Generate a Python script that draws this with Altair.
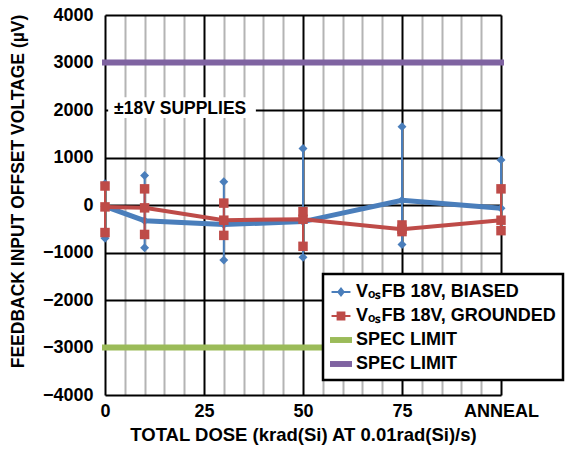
import altair as alt
import pandas as pd

# ---- data ----
dose = [0, 10, 30, 50, 75, 100]
x_tick_values = [0, 25, 50, 75, 100]
x_tick_labels = ["0", "25", "50", "75", "ANNEAL"]

biased_mean = [-30, -330, -410, -350, 100, -70]
biased_high = [450, 620, 490, 1190, 1650, 950]
biased_low = [-700, -900, -1160, -1100, -830, -500]

grounded_mean = [-40, -60, -320, -300, -510, -320]
grounded_high = [400, 340, 40, -140, -420, 340]
grounded_low = [-580, -620, -640, -870, -560, -540]

spec_low = -3000
spec_high = 3000

series_keys = ["biased", "grounded", "spec_lo", "spec_hi"]
series_labels = ["VₒₛFB 18V, BIASED", "VₒₛFB 18V, GROUNDED", "SPEC LIMIT", "SPEC LIMIT"]

annotation = "±18V SUPPLIES"

# ---- styles ----
FONT = "Liberation Sans"
BLUE = "#4A7EBB"
RED = "#BE4B48"
GREEN = "#9BBB59"
PURPLE = "#7F63A1"

df_b = pd.DataFrame({"dose": dose, "mean": biased_mean, "low": biased_low, "high": biased_high})
df_g = pd.DataFrame({"dose": dose, "mean": grounded_mean, "low": grounded_low, "high": grounded_high})

label_map = "{" + ",".join(f"'{k}':'{v}'" for k, v in zip(series_keys, series_labels)) + "}"
tick_map = "{" + ",".join(f"'{v}':'{l}'" for v, l in zip(x_tick_values, x_tick_labels)) + "}"

x_scale = alt.Scale(domain=[0, 100], nice=False, zero=False)
y_scale = alt.Scale(domain=[-4000, 4000], nice=False)

x_axis = alt.Axis(
    values=list(range(0, 101, 5)),
    labelExpr=f"datum.value % 25 === 0 ? {tick_map}[''+datum.value] : ''",
    ticks=False, domain=False, grid=True,
    gridColor={"condition": {"test": "datum.value % 25 === 0", "value": "black"}, "value": "#b4b4b4"},
    gridWidth=2, labelOverlap=False, labelFlush=False,
    labelFont=FONT, labelFontSize=18, labelFontWeight="bold", labelColor="black", labelPadding=7,
    title="TOTAL DOSE (krad(Si) AT 0.01rad(Si)/s)",
    titleFont=FONT, titleFontSize=18.5, titleFontWeight="bold", titleColor="black", titlePadding=5,
)
y_axis = alt.Axis(
    values=list(range(-4000, 4001, 1000)), format="d",
    ticks=False, domain=False, grid=True, gridColor="black", gridWidth=2,
    labelFont=FONT, labelFontSize=18, labelFontWeight="bold", labelColor="black", labelPadding=12,
    title="FEEDBACK INPUT OFFSET VOLTAGE (µV)", titleY=176,
    titleFont=FONT, titleFontSize=17.5, titleFontWeight="bold", titleColor="black", titlePadding=15,
)


def X(f):
    return alt.X(f, type="quantitative", scale=x_scale, axis=x_axis)


def Y(f):
    return alt.Y(f, type="quantitative", scale=y_scale, axis=y_axis)


# annotation background + text (data coordinates)
ann_df = pd.DataFrame({"x0": [0.8], "x1": [38.1], "y0": [2270], "y1": [1830], "tx": [2.3], "ty": [2030], "t": [annotation]})
ann_bg = alt.Chart(ann_df).mark_rect(color="white").encode(x=X("x0"), x2="x1:Q", y=Y("y0"), y2="y1:Q")
ann_text = alt.Chart(ann_df).mark_text(
    align="left", baseline="middle", font=FONT, fontSize=17.5, fontWeight="bold", color="black"
).encode(x=X("tx"), y=Y("ty"), text="t:N")


def spec_layer(val, color):
    d = pd.DataFrame({"x0": [dose[0]], "x1": [dose[-1]], "y": [val]})
    return alt.Chart(d).mark_rule(strokeWidth=6, strokeCap="square", color=color).encode(
        x=X("x0"), x2="x1:Q", y=Y("y")
    )


def series_layers(df, color, shape, size, lw):
    err = alt.Chart(df).mark_rule(color=color, strokeWidth=2).encode(x=X("dose"), y=Y("low"), y2="high:Q")
    line = alt.Chart(df).mark_line(color=color, strokeWidth=lw).encode(x=X("dose"), y=Y("mean"))
    pts = alt.Chart(df).transform_fold(["low", "mean", "high"]).mark_point(
        shape=shape, filled=True, size=size, color=color, opacity=1
    ).encode(x=X("dose"), y=Y("value"))
    return [err, line, pts]


diamond_line = "M-0.86,-0.09H0.86V0.09H-0.86Z M0,-0.45L0.36,0L0,0.45L-0.36,0Z"
square_line = "M-0.86,-0.09H0.86V0.09H-0.86Z M-0.4,-0.4H0.4V0.4H-0.4Z"
bar_line = "M-1,-0.27H1V0.27H-1Z"

leg = alt.Legend(
    orient="none", legendX=218, legendY=259, title=None, labelExpr=f"{label_map}[datum.value]",
    labelFont=FONT, labelFontSize=18, labelFontWeight="bold", labelColor="black", labelLimit=400,
    symbolStrokeWidth=0, symbolSize=484, fillColor="white", strokeColor="black",
    padding=7, labelOffset=4, symbolOpacity=1,
)
leg_df = pd.DataFrame({"series": series_keys, "dose": [None] * 4, "v": [None] * 4})
legend_layer = alt.Chart(leg_df).mark_point(filled=True, opacity=1, size=484).encode(
    x=X("dose"), y=Y("v"),
    color=alt.Color("series:N", scale=alt.Scale(domain=series_keys, range=[BLUE, RED, GREEN, PURPLE]), legend=leg),
    shape=alt.Shape("series:N", scale=alt.Scale(domain=series_keys, range=[diamond_line, square_line, bar_line, bar_line]), legend=leg),
)

layers = (
    [ann_bg, ann_text, spec_layer(spec_low, GREEN), spec_layer(spec_high, PURPLE)]
    + series_layers(df_b, BLUE, "diamond", 80, 5)
    + series_layers(df_g, RED, "square", 90, 4)
    + [legend_layer]
)

chart = alt.layer(*layers).properties(
    width=396, height=380,
    padding={"left": 97, "top": 7, "right": 70, "bottom": 50},
    autosize=alt.AutoSizeParams(type="none"),
).configure_view(stroke="black", strokeWidth=2.5).configure(font=FONT).configure_legend(
    strokeWidth=2.5, rowPadding=4
)

chart.save("out.html", embed_options={"renderer": "svg", "actions": False})
